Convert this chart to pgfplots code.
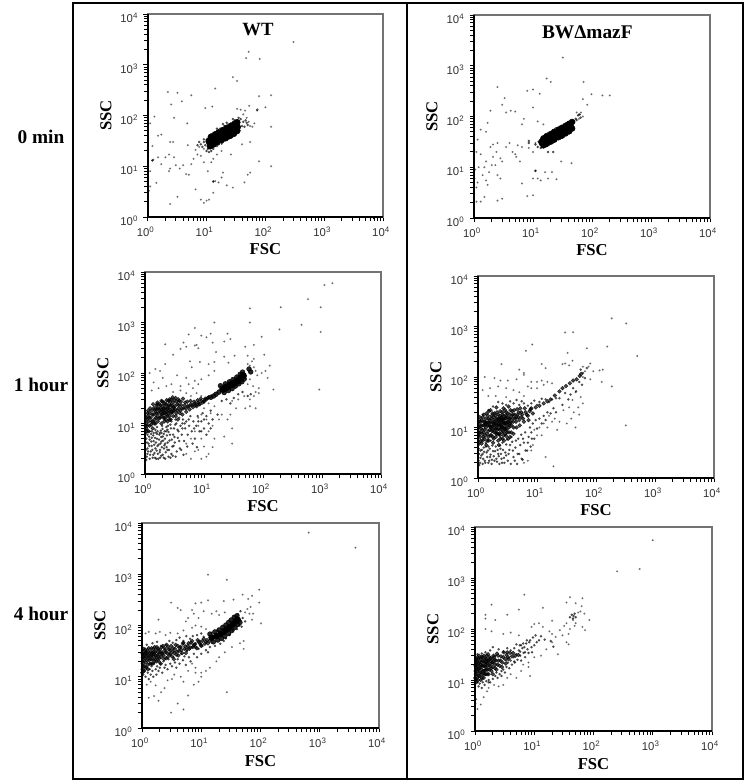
\documentclass[border=0pt]{standalone}
\usepackage{fontspec}
\setmainfont{Liberation Serif}
\setsansfont{Liberation Sans}
\usepackage{pgfplots}
\pgfplotsset{compat=1.18}
\pgfplotsset{
  scale only axis, xmin=1,xmax=10000,ymin=1,ymax=10000,
  axis line style={draw=black!55,line width=1.1pt},
  xtick={1,10,100,1000,10000}, ytick={1,10,100,1000,10000},
  extra x ticks={2,3,4,5,6,7,8,9,20,30,40,50,60,70,80,90,200,300,400,500,600,700,800,900,2000,3000,4000,5000,6000,7000,8000,9000},
  extra y ticks={2,3,4,5,6,7,8,9,20,30,40,50,60,70,80,90,200,300,400,500,600,700,800,900,2000,3000,4000,5000,6000,7000,8000,9000},
  extra x tick labels={}, extra y tick labels={},
  extra tick style={major tick length=1.8pt,grid=none},
  xticklabels={10\textsuperscript{0},10\textsuperscript{1},10\textsuperscript{2},10\textsuperscript{3},10\textsuperscript{4}},
  yticklabels={10\textsuperscript{0},10\textsuperscript{1},10\textsuperscript{2},10\textsuperscript{3},10\textsuperscript{4}},
  xtick pos=bottom, ytick pos=left, tick align=outside,
  major tick length=3.2pt,
  tick style={black,line width=.7pt},
  tick label style={font=\sffamily\fontsize{8.5}{9}\selectfont,text=black!80},
  xticklabel style={xshift=-1.5pt,yshift=-1pt},
  yticklabel style={yshift=-3pt,xshift=-.5pt},
  xlabel=FSC, ylabel=SSC,
  every axis x label/.style={at={(axis description cs:0.5,-0.16)},anchor=center,font=\bfseries\fontsize{12.5}{13}\selectfont},
  every axis y label/.style={at={(axis description cs:-0.178,0.5)},anchor=center,rotate=90,font=\bfseries\fontsize{12.5}{13}\selectfont},
  clip=false,
  extra description/.code={\draw[black,line width=1.5pt] (rel axis cs:0,1)--(rel axis cs:0,0)--(rel axis cs:1,0);},
 stray/.style={only marks,mark=*,mark size=0.6pt,mark options={draw=none,fill=black,opacity=.38}},
 fuzz/.style={only marks,mark=*,mark size=0.75pt,mark options={draw=none,fill=black,opacity=.55}},
 dense/.style={only marks,mark=*,mark size=1.4pt,mark options={draw=none,fill=black,opacity=.7}},
 ridge/.style={only marks,mark=*,mark size=#1,mark options={draw=none,fill=black,opacity=.85}},
 core/.style={only marks,mark=*,mark size=#1,mark options={draw=none,fill=black}},
}
\begin{document}
\begin{tikzpicture}
\path (0,0) rectangle (558.75pt,588pt);
\draw[black,line width=1.5pt] (55.1pt,3.4pt) rectangle (557.6pt,585.8pt);
\draw[black,line width=1.5pt] (305.25pt,3.4pt) -- (305.25pt,585.8pt);
\node[font=\bfseries\fontsize{14.5}{16}\selectfont] at (30.75pt,485.25pt) {0 min};
\node[font=\bfseries\fontsize{14.5}{16}\selectfont] at (30.75pt,299.25pt) {1 hour};
\node[font=\bfseries\fontsize{14.5}{16}\selectfont] at (30.75pt,127.5pt) {4 hour};

% ---------- WT 0 min
\begin{loglogaxis}[at={(110.8pt,425.25pt)},anchor=south west,width=176.5pt,height=152.25pt]
\addplot[stray] coordinates {(300,2800)(52,1800)(47,1350)(80,1300)(28,570)(33,480)(14,340)(78,240)(125,250)(53,155)(45,125)(38,130)(33,135)(72,125)(100,145)(125,60)(78,12.5)(125,10)(55,7.5)(50,6.8)(44,4.8)(28,3.8)(22,4.2)(19,7.5)(18,6)(16,4.8)(14,5.1)(13,5)(13,3)(11,2.2)(10,2.1)(9,1.9)(8,2.2)(6.5,3.5)(3.2,2.5)(2.4,1.8)(1.1,4)(1.05,3.3)(1,4.5)(1.4,4.7)(1,5.5)(1.1,8)(1.02,10)(1.2,13)(1.25,13.5)(1.5,15)(2,15)(2.3,17)(2.8,15)(1.7,11)(2.4,9)(2.3,8)(3,10.5)(3.5,9)(4,10.5)(4.5,7)(5,6.8)(5.5,11)(6,14)(7,17)(4.8,26)(4.7,70)(2.8,90)(2.2,290)(3.2,280)(3.8,190)(2.5,165)(5.5,250)(1.3,95)(1.1,70)(1.5,40)(1.7,42)(1.2,25)(2.4,30)(2.7,30)(9.5,140)(12.5,150)(10.5,8)(9,12)(8,16)(9,22)(6.5,21)(7.5,24)(12,12)(13,14)(15,17)(18,20)(26,17)(40,27)(55,30)(65,70)(60,60)(52,75)(48,90)(42,105)(55,62)};
\addplot[fuzz] coordinates {(8,27)(8.5,24)(9,30)(9.5,26)(10,33)(10.5,22)(11,38)(12,24)(13,22)(14,46)(15,25)(16,27)(17,55)(18,28)(20,62)(21,33)(23,66)(24,35)(26,70)(28,40)(30,80)(32,45)(34,78)(36,50)(38,85)(40,62)(42,75)(44,60)(46,80)(48,72)(50,65)(35,90)(28,85)(22,72)(19,68)(15,55)(12,42)(9,34)(7,26)(7.5,30)(10,20)(12,20)(11,19)(73,130)(13,5)(1.2,13)};
\addplot[core=3.3pt] coordinates {(11.5,31)(13,34)(15,37)(18,41)(21,45)(25,50)(29,55)(32,59)};
\addplot[core=2.4pt] coordinates {(12,38)(14,42)(16,46)(19,51)(22,56)(26,62)(30,68)(33,73)(11.5,25)(13,27)(15,30)(18,33)(21,36)(25,40)(29,44)(33,50)};
\end{loglogaxis}
\node[font=\bfseries\fontsize{14}{15}\selectfont] at (193.5pt,565.5pt) {WT};

% ---------- BW 0 min
\begin{loglogaxis}[at={(355.5pt,424.5pt)},anchor=south west,width=177pt,height=152.25pt]
\addplot[stray] coordinates {(32,1450)(17,560)(20,480)(72,480)(98,275)(150,260)(200,260)(13,280)(10,340)(8,320)(70,220)(83,170)(10,150)(2.5,380)(3.3,230)(3,170)(4.2,130)(5,125)(3.5,120)(1.9,130)(1.7,75)(7,90)(6.5,70)(12,80)(15,70)(1.3,55)(1.6,50)(1.15,35)(1.9,25)(2.1,28)(2.5,30)(3.5,25)(4.5,20)(4,30)(5.5,27)(6.5,25)(5,18)(5.2,16)(6,13)(2.4,20)(2.8,15)(3,13)(2.1,16)(2.3,11)(2,11)(1.6,13)(1.1,20)(1.3,18)(1.5,10)(1.8,8)(1.2,10)(1.4,7)(1.05,9)(1,7)(1.15,5)(1.1,4)(1.02,6)(1.6,5.5)(1.7,4.5)(2.5,7)(2.8,6)(2.5,2.2)(3,2.4)(1.5,2.6)(1.3,2.1)(1.1,2.1)(6.5,4.8)(8,2.7)(10,2.8)(10,6)(11,8.5)(12,6)(13.5,5.5)(16,8)(18,6)(21,8)(25,5.8)(30,13)(45,12)(10,20)(8.5,24)(11,30)(60,110)(65,120)(70,100)(55,120)(60,90)};
\addplot[fuzz] coordinates {(11,28)(12,25)(12.5,32)(13.5,24)(14,36)(15,25)(16,42)(17,26)(18,47)(19,28)(21,52)(22,31)(24,58)(26,36)(28,62)(30,38)(33,68)(36,42)(38,75)(42,52)(44,82)(47,65)(50,78)(53,90)(55,85)(58,105)(62,110)(64,95)(8.5,33)(8.5,30)(11,8.5)(18,20)(22,20)};
\addplot[core=3pt] coordinates {(14.5,31)(16,34)(18,36)(21,40)(24,44)(28,48)(32,53)(37,58)(42,63)};
\addplot[core=2.2pt] coordinates {(15,37)(17,41)(20,45)(23,50)(27,55)(31,60)(36,66)(41,72)(46,78)(15,27)(17,29)(20,32)(23,35)(27,39)(31,42)(36,47)(41,51)(46,58)};
\end{loglogaxis}
\node[font=\bfseries\fontsize{14.5}{15}\selectfont] at (440.5pt,564pt) {BWΔmazF};

% ---------- WT 1 hour
\begin{loglogaxis}[at={(108.75pt,232.5pt)},anchor=south west,width=177pt,height=151.5pt]
\addplot[stray] coordinates {(1500,6000)(1100,5500)(580,2900)(950,2000)(200,2000)(60,1900)(60,1000)(15,1000)(450,900)(190,730)(950,650)(900,47)(150,47)(7,780)(5.5,580)(9,550)(11,510)(13,600)(25,600)(28,470)(95,520)(70,360)(50,330)(22,420)(14,400)(8,310)(7.5,360)(4.5,400)(2.2,370)(3,230)(4,300)(5,330)(7,350)(16,260)(22,210)(33,220)(55,220)(105,230)(70,190)(130,140)(110,110)(95,100)(120,80)(85,50)(75,20)(2.2,150)(5.8,170)(6.2,130)(8.5,165)(12,150)(15,165)(26,160)(1.5,120)(1.8,110)(1.2,100)(2,80)(3.5,90)(5,80)(7,70)(9,75)(12,90)(15,110)(2.8,60)(4,55)(5.5,60)(6.5,50)(8,60)(1.4,65)(1.3,45)(1.7,50)(2.3,55)(3,42)(4,45)(5,40)(6,35)(7.5,40)(9,35)(60,140)(65,170)(70,130)(55,150)(75,110)(80,90)(60,75)(55,60)(68,55)(75,42)(85,40)(70,35)(60,30)(48,35)(38,30)(30,28)(35,20)(50,20)(60,22)(28,15)(20,15)(25,12)(30,8)(22,5.5)(30,4)(18,12)(15,22)(12,25)(10,20)(13,16)(9,15)(8,13)(11,12)(14,9)(12,7)(15,5)(14,3.4)(12,2.5)(11,2.2)(9,2)(8,3)(7,2.8)(6,2)(5,2.5)(5,4)(6,5)(7,7)(8,9)(9,5)(10,3.5)};
\addplot[fuzz] coordinates {(1.05,1.9)(1.1,2.5)(1.1,3.2)(1.15,4)(1.05,5)(1.1,6)(1.2,2)(1.2,7)(1.25,2.8)(1.3,3.6)(1.3,5.2)(1.35,2.1)(1.4,4.5)(1.4,6.5)(1.45,2.6)(1.5,3.2)(1.5,7.5)(1.55,2)(1.6,5)(1.6,8.5)(1.65,2.5)(1.7,3.8)(1.75,6)(1.8,2.1)(1.8,3)(1.85,7.2)(1.9,4.4)(1.95,9)(2,2.4)(2,5.5)(2.1,3.2)(2.15,7)(2.2,2)(2.2,4)(2.3,8.5)(2.35,5.8)(2.4,3)(2.5,2.2)(2.5,6.8)(2.6,4.6)(2.7,9.5)(2.8,2.5)(2.9,3.5)(3,6)(3.1,8)(3.2,4.2)(3.3,2.2)(3.4,10)(3.6,5.2)(3.7,7)(3.9,3.2)(4,9)(4.2,6)(4.4,12)(4.6,4.5)(4.8,8)(5,11)(5.3,6)(5.6,9)(5.9,14)(6.2,7)(6.6,11)(7,5)(7.4,9)(7.8,14)(8.4,7)(9,11)(9.5,16)(10,8)(11,14)(12,10)(13,18)(14,12)(17,15)(20,28)(24,30)(28,25)(32,32)(38,38)(45,42)(55,35)(62,38)(1.08,7.5)(1.2,4.8)(1.3,7)(1.6,6.2)(1.9,6.5)(2.4,7.5)(2.8,11)(3.3,12)(3.8,13)(4.3,10)
(1.03,3)(1.07,2.2)(1.08,4.2)(1.03,6.5)(1.13,2.8)(1.17,5.5)(1.18,3.6)(1.22,2.4)(1.27,6.2)(1.28,4.4)(1.33,3)(1.38,2.4)(1.38,5.8)(1.43,3.8)(1.48,2.1)(1.48,5.2)(1.53,4.2)(1.53,6.6)(1.58,2.9)(1.63,3.6)(1.63,7)(1.68,2)(1.73,4.8)(1.78,2.7)(1.78,6.5)(1.83,4)(1.88,2.3)(1.88,5.4)(1.93,3.4)(1.98,7.8)(2.03,4.6)(2.08,2.1)(2.08,6.2)(2.13,3.7)(2.18,5)(2.25,2.7)(2.28,7)(2.32,3.4)(2.42,4.2)(2.45,9)(2.55,3)(2.65,6)(2.7,2.1)(2.75,8)(2.85,4.8)(2.95,2.3)(3.05,3.6)(3.15,5.4)(3.25,9.5)(3.45,2.8)(3.55,7.5)(3.8,4.5)(4.1,3)(4.3,8)(4.5,2.4)(4.7,10)(5.2,3.5)(5.5,12)(6.4,4)(6.8,8)(7.6,3.4)(8,11)(9,7)(10,12)(11,6)(13,8)};
\addplot[dense] coordinates {(1.05,8)(1.05,10)(1.08,12)(1.1,9)(1.12,14)(1.15,7)(1.15,11)(1.2,16)(1.2,9)(1.25,13)(1.3,18)(1.3,11)(1.35,8)(1.4,15)(1.4,20)(1.45,12)(1.5,17)(1.5,10)(1.55,22)(1.6,14)(1.6,19)(1.65,11)(1.7,16)(1.75,24)(1.8,13)(1.8,20)(1.85,17)(1.9,10)(1.95,15)(2,22)(2,18)(2.05,13)(2.1,26)(2.15,16)(2.2,20)(2.25,12)(2.3,24)(2.35,17)(2.4,14)(2.45,21)(2.5,28)(2.55,18)(2.6,12)(2.7,23)(2.75,16)(2.8,30)(2.9,20)(3,14)(3,26)(3.1,18)(3.2,22)(3.3,32)(3.4,16)(3.5,24)(3.6,12)(3.7,20)(3.8,28)(4,18)(4.1,23)(4.3,15)(4.5,20)(4.8,26)(5,17)(5.3,22)(5.7,19)(6,24)(6.5,21)(7,25)(7.5,22)(8,26)(8.5,24)(9,28)(10,27)(10.5,31)(11,30)(12,33)
(1.02,9)(1.04,13)(1.07,7)(1.13,18)(1.18,13)(1.22,20)(1.27,9.5)(1.33,15)(1.37,24)(1.43,10)(1.47,19)(1.53,13)(1.57,16)(1.63,26)(1.67,20)(1.72,12.5)(1.78,18)(1.83,23)(1.88,14)(1.93,19)(1.97,27)(2.03,16)(2.08,20)(2.12,11)(2.18,24)(2.22,18)(2.28,15)(2.33,29)(2.38,20)(2.42,11)(2.48,16)(2.53,23)(2.58,14)(2.64,19)(2.68,27)(2.72,12)(2.82,17)(2.86,23)(2.94,33)(2.97,17)(3.06,21)(3.14,29)(3.25,19)(3.32,14)(3.45,27)(3.55,18)(3.65,30)(3.75,23)(3.9,16)(4.05,27)(4.2,20)(4.4,31)(4.7,23)(4.95,20)(5.2,27)(5.6,22)(5.9,28)(6.3,23)(6.8,27)(7.2,23)(7.8,29)(8.2,24)(8.8,31)(9.5,26)(10.2,29)(11.5,32)(1.1,16)(1.35,11)(1.6,24)(1.9,28)(2.15,13)(2.6,30)};
\addplot[ridge=1.8pt] coordinates {(13,33)(14.5,35)(16,38)(18,42)(62,105)(58,120)(19,56)(23,61)(27,67)(31,74)(36,83)(41,94)(45,104)(22,41)(26,45)(30,49)(34,55)(39,61)(44,67)(48,76)};
\addplot[core=2.6pt] coordinates {(21,48)(24,52)(28,58)(32,62)(37,70)(42,78)(46,88)};
\end{loglogaxis}

% ---------- BW 1 hour
\begin{loglogaxis}[at={(358.5pt,229.5pt)},anchor=south west,width=177pt,height=151.5pt]
\addplot[stray] coordinates {(185,1450)(325,1150)(30,760)(41,770)(8.3,440)(6.5,330)(155,400)(500,260)(33,300)(70,370)(40,210)(30,185)(27,180)(35,170)(80,185)(2.5,180)(12,180)(14,150)(5,140)(6,120)(75,160)(60,160)(115,135)(65,130)(90,130)(130,140)(60,100)(80,90)(125,80)(185,65)(320,11)(1.3,100)(1.9,95)(2.4,85)(3.2,85)(4.5,90)(6,110)(8,80)(10,80)(12,85)(15,80)(18,75)(7,65)(3,60)(4,55)(2.2,65)(1.6,60)(1.2,55)(5,50)(6,42)(8,60)(10,60)(13,70)(3,40)(2,42)(1.5,42)(45,50)(40,35)(55,40)(60,30)(50,25)(35,25)(42,20)(28,22)(24,13)(32,12)(45,10)(38,15)(52,18)(22,9)(20,15)(18,13)(16,17)(12,7)(14,2.6)(19,1.7)(8,3.5)(7,2.2)(6,2)(8.5,4.5)(10,7)(9,9)(11,10)(13,12)(15,10)};
\addplot[fuzz] coordinates {(1.05,1.8)(1.1,2.5)(1.1,3.5)(1.05,4.6)(1.2,1.9)(1.2,3)(1.25,4)(1.3,2.2)(1.35,5)(1.4,3.2)(1.5,2)(1.5,4.2)(1.6,2.6)(1.65,5.5)(1.7,1.9)(1.8,3.4)(1.9,2.2)(2,4.2)(2.1,2.1)(2.2,3)(2.3,1.9)(2.4,3.8)(2.5,2.4)(2.6,5)(2.8,2)(2.9,3.2)(3,4.6)(3.2,2.2)(3.4,3.6)(3.6,1.9)(3.8,5.2)(4,2.6)(4.3,4)(4.6,1.9)(4.8,6)(5,3)(5.4,7.2)(5.7,2.3)(6,5)(6.3,8)(6.8,3.5)(7.2,6.5)(7.6,10)(8,8)(8.5,12)(9,6)(9.5,14)(10,9.5)(11,15)(12,12)(13,17)(14,14)(15,20)(17,19)(19,24)(21,20)(24,38)(27,28)(30,48)(34,36)(37,45)(41,60)(46,52)(52,80)(58,70)(60,120)(55,140)(65,95)(70,150)(1.1,14)(1.2,18)(1.5,22)(1.8,26)(2.2,32)(2.6,30)(3,28)(3.5,33)(4,30)(4.5,35)(5,28)(5.5,33)(6,30)(7,27)(8,30)(9,34)(10,28)(11,32)(12,37)(14,36)(16,32)(18,36)(21,38)
(1.02,2.2)(1.04,3)(1.03,3.8)(1.08,2)(1.14,2.8)(1.16,3.6)(1.22,2.4)(1.27,3.3)(1.33,2)(1.36,4.2)(1.43,2.6)(1.47,3.5)(1.55,2.2)(1.58,3.8)(1.63,2.9)(1.72,2.3)(1.75,4.4)(1.85,2.7)(1.95,3.4)(2.05,2.4)(2.15,3.6)(2.25,2.7)(2.35,4.4)(2.45,3)(2.55,2)(2.65,3.6)(2.75,2.5)(3,2.8)(3.1,5.8)(3.3,3)(3.5,4.5)(3.7,6.5)(3.9,3.5)(4.2,2.2)(4.4,5.5)(4.7,3)(5.2,4.5)(5.5,2.4)(5.8,6)(6.4,3.5)(7,5)(7.8,4.2)(8.2,6)};
\addplot[dense] coordinates {(1.03,5)(1.05,8)(1.05,11)(1.08,6.5)(1.1,13)(1.12,9.5)(1.15,4.8)(1.18,7.5)(1.2,16)(1.22,11)(1.28,6)(1.3,9)(1.32,13)(1.38,4.5)(1.4,19)(1.42,7.5)(1.45,11)(1.5,15)(1.52,5.5)(1.58,9)(1.6,12.5)(1.63,22)(1.68,7)(1.7,17)(1.75,10.5)(1.8,5)(1.82,14)(1.88,8)(1.9,19)(1.95,12)(2,6.5)(2,9.5)(2.05,25)(2.1,15)(2.12,11)(2.18,7.5)(2.2,18)(2.25,4.5)(2.3,13)(2.32,9)(2.38,21)(2.4,6)(2.45,15.5)(2.5,11)(2.55,8)(2.6,18)(2.65,13)(2.7,24)(2.75,5.5)(2.8,10)(2.85,15)(2.9,7.5)(3,20)(3,12)(3.05,9)(3.15,16)(3.25,6)(3.3,26)(3.4,11)(3.45,18)(3.6,13)(3.65,8)(3.8,21)(3.9,15)(4,10)(4.2,18)(4.4,13)(4.6,23)(4.8,16)(5.1,11)(5.4,20)(5.8,15)(6.2,24)(6.7,18)(7.2,14)(7.8,23)(8.5,19)(9.5,25)(11,27)(13,30)(15,33)(17,36)(20,43)(24,52)(27,60)(31,66)(36,75)(41,85)(47,90)(53,105)(56,115)
(1.02,7)(1.03,10)(1.04,13)(1.07,16)(1.09,8)(1.11,5.5)(1.14,11)(1.16,14)(1.19,9)(1.23,6.5)(1.24,13)(1.26,18)(1.29,11)(1.33,7)(1.35,15)(1.37,10)(1.41,12.5)(1.44,5.5)(1.47,17)(1.49,8.5)(1.53,21)(1.55,11)(1.57,14)(1.61,7)(1.65,10)(1.67,15)(1.71,12.5)(1.73,8.5)(1.77,19)(1.79,6.5)(1.83,11)(1.86,16)(1.9,13)(1.93,9.5)(1.97,17)(2.02,11)(2.07,7.5)(2.1,20)(2.15,13)(2.2,9.5)(2.24,15)(2.28,11)(2.34,17)(2.36,7)(2.43,12.5)(2.46,9.5)(2.52,16)(2.57,20)(2.62,10)(2.68,14.5)(2.73,7)(2.78,17)(2.82,12)(2.88,22)(2.95,9.5)(3.02,15)(3.1,11)(3.2,19)(3.28,13)(3.36,8)(3.5,15)(3.55,22)(3.7,11)(3.75,17)(3.95,13)(4.1,22)(4.3,15)(4.5,10)(4.7,18)(5,14)(5.2,24)(5.6,18)(6,13)(6.4,20)(7,17)(7.5,21)(8,24)
(1.75,9)(1.85,12)(2,8)(2.05,14)(2.12,9)(2.22,12)(2.3,7.5)(2.4,11)(2.48,14)(2.55,10)(2.65,8.5)(2.72,12)(2.85,9)(2.92,12.5)(3.1,8)(3.2,13)(3.35,10)(3.5,12)(1.6,10.5)(1.48,12.5)(1.35,12)(1.25,8)(2.35,15)(2.6,14)(3,17)(3.4,15)(3.9,18)(4.4,16)(4.9,20)(5.4,16)(1.2,5.5)(1.5,6.5)(1.85,6)(2.2,5.5)(2.6,6)(3,6.8)(3.5,6.5)(4,7.5)};
\end{loglogaxis}

% ---------- WT 4 hour
\begin{loglogaxis}[at={(106.5pt,42pt)},anchor=south west,width=177.75pt,height=153.75pt]
\addplot[stray] coordinates {(650,6500)(4000,3300)(13,980)(27,780)(95,500)(50,400)(3.1,280)(4,220)(4.5,200)(8,270)(10,280)(13,310)(24,300)(35,320)(62,330)(72,380)(95,280)(68,230)(60,210)(65,170)(75,170)(55,180)(102,110)(72,130)(1.9,130)(7,200)(7.5,170)(5.5,120)(6,140)(9,140)(11,190)(15,170)(18,190)(20,160)(25,180)(2,75)(1.7,70)(1.3,75)(1.15,70)(2.5,65)(3,72)(4,70)(5,80)(7,90)(8,100)(10,95)(12,85)(52,50)(52,35)(27,5)(18,20)(20,24)(25,30)(33,38)(45,45)(14,15)(12,13)(10,12)(8,15)(9,8)(7.5,7)(6,4.3)(5,2.3)(4,3)(3.1,2)(1.9,3.4)(1.3,3.9)(1.6,4.2)(2.1,5)(1.7,6.8)(2.4,6)(1.2,7)(1.4,8)(2.7,8.5)(3.2,9)(3.5,11)(4.5,10)(5,8)(6,13)(7,18)(10,10)(8,12)};
\addplot[fuzz] coordinates {(1.05,11)(1.1,13)(1.15,10)(1.2,15)(1.25,12)(1.3,9)(1.35,14)(1.4,11)(1.45,16)(1.5,13)(1.55,10)(1.6,18)(1.7,14)(1.75,11)(1.8,16)(1.9,13)(2,15)(2.05,18)(2.2,12)(2.3,20)(2.4,15)(2.5,17)(2.7,14)(2.8,22)(3,18)(3.2,16)(3.4,24)(3.6,19)(3.8,15)(4,22)(4.3,18)(4.6,28)(4.9,21)(5.2,25)(5.5,17)(5.8,32)(6.2,24)(6.6,20)(7,38)(7.5,28)(8,45)(8.5,24)(9,35)(9.5,50)(10,28)(10.5,40)(11,60)(12,33)(13,30)(14,38)(15,72)(17,40)(19,80)(21,44)(24,50)(26,56)(30,65)(34,80)(38,150)(42,165)(46,190)(50,140)(55,120)(48,95)(44,100)(40,85)(1.2,42)(1.5,45)(1.8,48)(2.1,40)(2.5,42)(2.9,50)(3.3,46)(3.8,52)(4.3,58)(5,50)(5.6,62)(6.5,55)(7.2,62)(8.5,65)(10,70)};
\addplot[dense] coordinates {(1.02,14)(1.03,18)(1.03,24)(1.05,30)(1.08,21)(1.1,16)(1.1,27)(1.13,34)(1.16,19)(1.2,24)(1.2,30)(1.25,17)(1.28,27)(1.3,36)(1.32,21)(1.38,25)(1.4,31)(1.43,18)(1.48,28)(1.5,22)(1.55,35)(1.58,25)(1.62,20)(1.65,30)(1.7,26)(1.78,38)(1.8,23)(1.85,30)(1.92,20)(1.98,27)(2,34)(2.1,24)(2.18,30)(2.25,40)(2.3,26)(2.45,33)(2.55,23)(2.65,29)(2.75,38)(2.9,27)(3,33)(3.2,25)(3.35,36)(3.5,29)(3.7,42)(3.9,31)(4.1,26)(4.3,37)(4.6,33)(4.9,44)(5.2,35)(5.5,29)(5.9,40)(6.3,35)(6.7,46)(7.2,38)(7.8,43)(8.4,36)(9,48)(9.8,42)(10.5,50)(11.5,44)(12.5,52)
(1.01,12)(1.02,20)(1.02,28)(1.04,16)(1.06,25)(1.07,35)(1.09,13)(1.12,23)(1.14,30)(1.17,15)(1.18,27)(1.22,21)(1.24,33)(1.26,14)(1.3,24)(1.34,29)(1.36,18)(1.41,22)(1.44,36)(1.46,26)(1.52,18)(1.53,30)(1.6,28)(1.63,38)(1.67,22)(1.72,33)(1.76,20)(1.83,26)(1.88,35)(1.95,23)(2.03,30)(2.07,18)(2.15,38)(2.22,28)(2.35,22)(2.4,36)(2.5,30)(2.6,42)(2.7,24)(2.85,34)(3,28)(3.1,40)(3.3,31)(3.45,22)(3.6,35)(3.8,27)(4,40)(4.2,32)(4.5,38)(4.75,29)(5,46)(5.4,39)(5.7,34)(6.1,45)(6.5,37)(7,50)(7.5,42)(8,38)(8.7,52)(9.5,45)(10,40)(11,55)(12,48)(13,45)(14,50)};
\addplot[ridge=1.8pt] coordinates {(14,68)(17,75)(20,82)(23,92)(26,102)(29,115)(32,128)(36,145)(40,155)(16,48)(19,52)(22,56)(25,62)(29,70)(33,80)(37,92)(41,105)(45,115)};
\addplot[core=2.3pt] coordinates {(15,58)(18,62)(21,68)(24,76)(27,84)(30,92)(34,105)(38,120)(41,130)};
\end{loglogaxis}

% ---------- BW 4 hour
\begin{loglogaxis}[at={(356.25pt,39.75pt)},anchor=south west,width=177.75pt,height=153pt]
\addplot[stray] coordinates {(1000,5500)(600,1500)(250,1350)(6.8,470)(1.9,300)(1.5,190)(3.5,190)(5.5,240)(14,260)(40,420)(35,330)(50,320)(65,400)(63,280)(55,210)(60,220)(70,200)(85,150)(45,150)(50,130)(65,110)(40,100)(35,130)(32,115)(48,115)(72,95)(38,80)(35,55)(38,50)(25,32)(8.5,12)(6,15)(5,11)(3,8)(2.5,7.5)(2.1,8)(1.7,7)(1.6,6)(1.4,4.6)(1.25,3.3)(1.1,2.7)(1.05,4.2)(1.02,3.5)(1.5,160)(2.2,150)(1.5,100)(1.9,90)(3,80)(4,85)(5.5,75)(20,145)(12,130)(9,110)(10,125)(14,110)(18,90)(20,80)(23,70)(27,95)(30,75)(20,55)(16,40)(13,30)(10,28)(8,22)(6.5,20)(4,13)(3.5,11)(8,18)};
\addplot[fuzz] coordinates {(1.1,9)(1.15,7.5)(1.2,8.5)(1.3,7)(1.35,9)(1.45,8)(1.55,9.5)(1.7,10)(1.8,9)(2,10.5)(2.2,12)(2.4,11)(2.6,13)(2.8,15)(3,16)(3.2,14)(3.4,18)(3.6,22)(3.8,17)(4,24)(4.2,20)(4.5,28)(4.7,22)(5,32)(5.2,25)(5.5,38)(5.8,30)(6,24)(6.3,42)(6.6,34)(7,28)(7.3,52)(7.7,40)(8,34)(8.5,60)(9,44)(9.5,68)(10,48)(10.5,75)(11,55)(13,72)(15,62)(19,58)(21,45)(4,38)(4.6,42)(3,36)(2.5,40)(3.5,42)(2,44)(1.8,38)(2.2,30)(5,50)(5.7,48)(6.5,52)(7.5,60)(40,170)(43,190)(46,180)(48,200)(50,170)(45,160)(1.5,35)(1.3,33)(1.1,32)(1.7,9)(2.3,14)(2.8,12)(3.4,24)(4.6,23)(5.8,36)(6.8,44)(8.2,55)(9.2,35)(12,60)(7,35)(6,48)};
\addplot[dense] coordinates {(1.03,10)(1.03,13)(1.05,17)(1.05,22)(1.08,11)(1.1,15)(1.1,20)(1.12,26)(1.16,12)(1.18,17)(1.2,23)(1.2,14)(1.25,10)(1.25,20)(1.28,28)(1.3,16)(1.33,13)(1.36,24)(1.38,19)(1.4,11)(1.42,30)(1.45,15)(1.48,22)(1.5,18)(1.52,13)(1.56,26)(1.6,21)(1.62,16)(1.66,32)(1.7,13)(1.72,24)(1.78,19)(1.85,27)(1.9,15)(1.95,22)(2,18)(2.05,30)(2.15,25)(2.2,20)(2.3,16)(2.35,33)(2.5,24)(2.6,19)(2.75,29)(2.9,22)(3.05,35)(3.2,26)(3.4,31)(3.6,28)(3.9,34)(4.2,29)
(1.01,11)(1.02,15)(1.02,19)(1.04,25)(1.04,9)(1.07,13)(1.07,18)(1.09,23)(1.1,28)(1.13,10)(1.14,16)(1.15,21)(1.17,30)(1.2,12)(1.22,18)(1.23,26)(1.27,14)(1.28,22)(1.31,11)(1.32,19)(1.35,28)(1.38,15)(1.4,23)(1.44,13)(1.46,19)(1.5,26)(1.53,16)(1.55,22)(1.58,30)(1.6,13)(1.65,19)(1.68,24)(1.73,16)(1.76,28)(1.82,21)(1.88,17)(1.92,25)(2,13)(2.02,22)(2.1,28)(2.18,17)(2.25,24)(2.4,20)(2.45,30)(2.7,24)(2.85,18)(3,28)(3.3,21)(3.5,35)(3.7,26)(4.4,34)(4.8,30)(5.4,31)};
\end{loglogaxis}
\end{tikzpicture}
\end{document}
